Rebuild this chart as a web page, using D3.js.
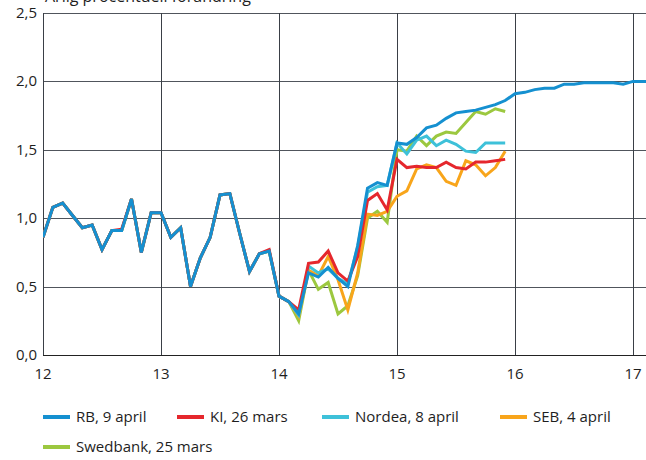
<!DOCTYPE html>
<html>
<head>
<meta charset="utf-8">
<script src="https://cdn.jsdelivr.net/npm/d3@7"></script>
<style>
  body { margin: 0; background: #fff; }
  text { font-family: "Open Sans", sans-serif; fill: #1e1e1e; }
</style>
</head>
<body>
<svg id="chart" width="646" height="460"></svg>
<script>
// monthly values, Jan 2012 - Dec 2013 (shared history)
const history = [
  0.86, 1.08, 1.11, 1.02, 0.93, 0.95, 0.77, 0.91, 0.91, 1.14, 0.75, 1.04,
  1.04, 0.86, 0.93, 0.50, 0.71, 0.86, 1.17, 1.18, 0.89, 0.61, 0.74, 0.76
];
const historyKI = [
  0.86, 1.08, 1.11, 1.02, 0.93, 0.95, 0.77, 0.91, 0.92, 1.14, 0.75, 1.04,
  1.04, 0.86, 0.93, 0.50, 0.71, 0.86, 1.17, 1.18, 0.89, 0.61, 0.74, 0.77
];

// Jan 2014 onwards
const rb = [
  0.43, 0.39, 0.30, 0.60, 0.57, 0.64, 0.56, 0.50, 0.80, 1.22, 1.26, 1.24,
  1.55, 1.54, 1.59, 1.66, 1.68, 1.73, 1.77, 1.78, 1.79, 1.81, 1.83, 1.86,
  1.91, 1.92, 1.94, 1.95, 1.95, 1.98, 1.98, 1.99, 1.99, 1.99, 1.99, 1.98,
  2.00, 2.00, 2.00
];
const ki = [
  0.43, 0.39, 0.33, 0.67, 0.68, 0.76, 0.60, 0.54, 0.72, 1.13, 1.18, 1.06,
  1.43, 1.37, 1.38, 1.37, 1.37, 1.41, 1.37, 1.36, 1.41, 1.41, 1.42, 1.43
];
const nordea = [
  0.43, 0.39, 0.29, 0.65, 0.60, 0.63, 0.56, 0.52, 0.79, 1.19, 1.23, 1.24,
  1.55, 1.47, 1.57, 1.60, 1.53, 1.57, 1.54, 1.49, 1.48, 1.55, 1.55, 1.55
];
const seb = [
  0.43, 0.39, 0.28, 0.62, 0.58, 0.72, 0.55, 0.33, 0.60, 1.03, 1.02, 1.05,
  1.16, 1.20, 1.36, 1.39, 1.37, 1.27, 1.24, 1.42, 1.39, 1.31, 1.37, 1.49
];
const swedbank = [
  0.43, 0.39, 0.25, 0.62, 0.48, 0.53, 0.30, 0.36, 0.58, 1.00, 1.05, 0.97,
  1.50, 1.49, 1.60, 1.53, 1.60, 1.63, 1.62, 1.70, 1.78, 1.76, 1.80, 1.78
];

const xTicks = [12, 13, 14, 15, 16, 17];
const yTicks = [0, 0.5, 1, 1.5, 2, 2.5];

const series = [
  { name: "Swedbank, 25 mars", color: "#9cc83f", values: history.concat(swedbank) },
  { name: "SEB, 4 april", color: "#f8a51b", values: history.concat(seb) },
  { name: "Nordea, 8 april", color: "#3ec1d9", values: history.concat(nordea) },
  { name: "KI, 26 mars", color: "#e5272d", values: historyKI.concat(ki) },
  { name: "RB, 9 april", color: "#1590d0", values: history.concat(rb) }
];

const svg = d3.select("#chart");
const plotLeft = 43, plotRight = 646, plotTop = 13, plotBottom = 355;

const x = d3.scaleLinear().domain([12, 17.11]).range([plotLeft, plotRight]);
const y = d3.scaleLinear().domain([0, 2.5]).range([plotBottom, plotTop]);

// title, partly cut off at the top
svg.append("text")
  .attr("x", 45)
  .attr("y", 2)
  .attr("font-size", 16)
  .text("Årlig procentuell förändring");

// grid
const grid = svg.append("g").attr("shape-rendering", "crispEdges");
grid.selectAll(".hgrid")
  .data(yTicks)
  .enter()
  .append("line")
  .attr("x1", plotLeft)
  .attr("x2", plotRight)
  .attr("y1", d => Math.round(y(d)) + 0.5)
  .attr("y2", d => Math.round(y(d)) + 0.5)
  .attr("stroke", d => d === 0 ? "#222" : "#50555c")
  .attr("stroke-width", 1);
grid.selectAll(".vgrid")
  .data(xTicks)
  .enter()
  .append("line")
  .attr("x1", d => Math.round(x(d)) + 0.5)
  .attr("x2", d => Math.round(x(d)) + 0.5)
  .attr("y1", plotTop)
  .attr("y2", plotBottom)
  .attr("stroke", "#3a3f46")
  .attr("stroke-width", 1);

// axis labels
const fmt = d3.format(".1f");
svg.append("g")
  .selectAll("text")
  .data(yTicks)
  .enter()
  .append("text")
  .attr("x", 37)
  .attr("y", d => y(d) + 5)
  .attr("text-anchor", "end")
  .attr("font-size", 15)
  .text(d => fmt(d).replace(".", ","));

svg.append("g")
  .selectAll("text")
  .data(xTicks)
  .enter()
  .append("text")
  .attr("x", d => x(d))
  .attr("y", 379)
  .attr("text-anchor", "middle")
  .attr("font-size", 15)
  .text(d => d);

// lines
svg.append("clipPath").attr("id", "plot")
  .append("rect")
  .attr("x", plotLeft)
  .attr("y", 0)
  .attr("width", plotRight - plotLeft)
  .attr("height", plotBottom);

const line = d3.line()
  .x((d, i) => x(12 + i / 12))
  .y(d => y(d));

svg.append("g")
  .attr("clip-path", "url(#plot)")
  .selectAll("path")
  .data(series)
  .enter()
  .append("path")
  .attr("d", d => line(d.values))
  .attr("fill", "none")
  .attr("stroke", d => d.color)
  .attr("stroke-width", 3)
  .attr("stroke-linejoin", "miter");

// legend
const legendItems = [
  { s: series[4], x: 43, y: 417 },
  { s: series[3], x: 177, y: 417 },
  { s: series[2], x: 322, y: 417 },
  { s: series[1], x: 500, y: 417 },
  { s: series[0], x: 43, y: 447 }
];
const legend = svg.append("g")
  .selectAll("g")
  .data(legendItems)
  .enter()
  .append("g")
  .attr("transform", d => "translate(" + d.x + "," + d.y + ")");
legend.append("rect")
  .attr("x", 0)
  .attr("y", -2)
  .attr("width", 27)
  .attr("height", 4)
  .attr("fill", d => d.s.color);
legend.append("text")
  .attr("x", 33)
  .attr("y", 5)
  .attr("font-size", 15)
  .text(d => d.s.name);
</script>
</body>
</html>
